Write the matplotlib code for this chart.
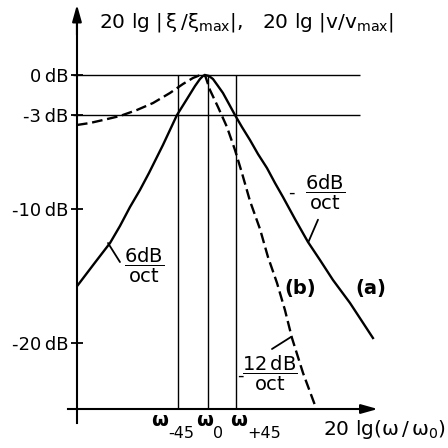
import matplotlib
matplotlib.use("Agg")
import matplotlib.pyplot as plt

plt.rcParams['font.family'] = ['DejaVu Sans']
plt.rcParams['mathtext.fontset'] = 'dejavusans'
plt.rcParams['mathtext.default'] = 'regular'

# x = 20 lg(w/w0) in dB, y = level in dB
# (a) velocity curve, solid
vel_x = [-14.24, -12.49, -10.73, -9.64, -8.54, -7.45, -6.46, -4.93, -3.40, -2.30,
         -1.42, -0.88, -0.55, -0.33, 0.11, 0.55, 1.10, 1.64, 2.30, 2.96,
         3.72, 4.60, 5.48, 6.46, 7.34, 8.21, 9.53, 10.95, 12.27, 13.69, 15.55, 18.07]
vel_db = [-15.67, -14.10, -12.54, -11.27, -9.85, -8.58, -7.31, -5.22, -2.99, -1.79,
          -0.82, -0.30, -0.07, 0.0, -0.07, -0.30, -0.82, -1.34, -2.16, -2.99,
          -3.88, -4.85, -5.90, -6.94, -8.06, -9.10, -10.75, -12.46, -13.81, -15.30, -17.01, -19.63]

# (b) displacement curve, dashed
disp_x = [-14.35, -12.92, -11.50, -9.64, -7.78, -6.02, -4.16, -2.74, -1.64, -0.99,
          -0.33, 0.22, 1.10, 2.08, 2.96, 3.72, 4.60, 5.70, 6.57, 7.56,
          8.43, 9.20, 10.41, 11.83]
disp_db = [-3.73, -3.58, -3.36, -3.06, -2.61, -2.09, -1.34, -0.67, -0.22, -0.04,
           0.0, -1.12, -2.39, -3.88, -5.60, -7.31, -9.40, -11.50, -13.58, -15.52,
           -17.54, -19.63, -22.24, -24.85]

ref_levels = [0, -3]
ref_freqs = [-3.29, 0.0, 3.07]
freq_subs = ['-45', '0', '+45']
freq_w_x = [-6.24, -1.31, 2.41]      # left edge of the omega
freq_sub_x = [-4.38, 0.55, 4.27]     # left edge of the subscript
ytick_vals = [0, -3, -10, -20]
ytick_labels = ['0\u2009dB', '-3\u2009dB', '-10\u2009dB', '-20\u2009dB']

# axis placement (data units)
y_axis_x = -14.35
x_axis_y = -24.93

fig = plt.figure(figsize=(4.48, 4.48), dpi=100)
ax = fig.add_axes([0, 0, 1, 1])
ax.set_xlim(-22.78, 26.29)
ax.set_ylim(-27.84, 5.60)
ax.patch.set_visible(False)

for s in ['top', 'right']:
    ax.spines[s].set_visible(False)
ax.spines['left'].set_position(('data', y_axis_x))
ax.spines['bottom'].set_position(('data', x_axis_y))
ax.spines['left'].set_bounds(-25.97, 4.0)
ax.spines['bottom'].set_bounds(-15.33, 17.5)
ax.spines['left'].set_linewidth(1.5)
ax.spines['bottom'].set_linewidth(1.5)

# arrow heads on the axes
ax.annotate('', xy=(y_axis_x, 5.25), xytext=(y_axis_x, 3.0),
            arrowprops=dict(arrowstyle='-|>,head_length=1.0,head_width=0.28',
                            color='black', lw=1.5, shrinkA=0, shrinkB=0))
ax.annotate('', xy=(18.6, x_axis_y), xytext=(16.5, x_axis_y),
            arrowprops=dict(arrowstyle='-|>,head_length=1.0,head_width=0.28',
                            color='black', lw=1.5, shrinkA=0, shrinkB=0))

ax.set_yticks(ytick_vals)
ax.set_yticklabels(ytick_labels, fontsize=13)
ax.tick_params(axis='y', direction='inout', length=8, width=1.3, pad=2)
ax.set_xticks([])

# omega labels under the x axis
for wx, sx, sub in zip(freq_w_x, freq_sub_x, freq_subs):
    ax.text(wx, -26.20, 'ω', fontsize=14, fontweight='bold', ha='left', va='baseline')
    ax.text(sx, -27.10, sub, fontsize=11.5, ha='left', va='baseline')

# reference lines
ax.hlines(ref_levels, -14.79, 16.65, color='black', lw=1.0)
ax.vlines(ref_freqs, x_axis_y, 0, color='black', lw=1.0)

# curves
ax.plot(vel_x, vel_db, color='black', lw=1.7, solid_joinstyle='round')
ax.plot(disp_x, disp_db, color='black', lw=1.7, linestyle=(0, (4.5, 2)))

# slope markers
seg = dict(arrowstyle='-', color='black', lw=1.3, shrinkA=0, shrinkB=0)
ax.annotate('', xy=(-10.95, -12.54), xytext=(-9.64, -13.96), arrowprops=seg)
ax.annotate('', xy=(11.0, -12.46), xytext=(12.05, -10.80), arrowprops=seg)
ax.annotate('', xy=(9.10, -19.55), xytext=(7.01, -20.45), arrowprops=seg)

ax.text(-7.01, -14.18, r'$\dfrac{\mathrm{6dB}}{\mathrm{oct}}$', fontsize=14,
        ha='center', va='center')
ax.text(12.81, -8.73, r'$\dfrac{\mathrm{6dB}}{\mathrm{oct}}$', fontsize=14,
        ha='center', va='center')
ax.text(9.09, -8.81, '-', fontsize=13, ha='center', va='center')
ax.text(6.79, -22.24, r'$\dfrac{\mathrm{12\,dB}}{\mathrm{oct}}$', fontsize=14,
        ha='center', va='center')
ax.text(3.50, -22.46, '-', fontsize=13, ha='center', va='center')

ax.text(10.08, -15.90, '(b)', fontsize=14, fontweight='bold', ha='center', va='center')
ax.text(17.85, -15.90, '(a)', fontsize=14, fontweight='bold', ha='center', va='center')

ax.text(4.16, 3.90, r'20 lg $|\,\xi\,/\xi_{\mathrm{max}}|$,   20 lg $|v/v_{\mathrm{max}}|$',
        fontsize=14.5, ha='center', va='center')
ax.text(26.1, -26.49, r'20 lg($\omega\,/\,\omega_{0}$)', fontsize=14.5,
        ha='right', va='center')

fig.savefig('out.png', dpi=100)
